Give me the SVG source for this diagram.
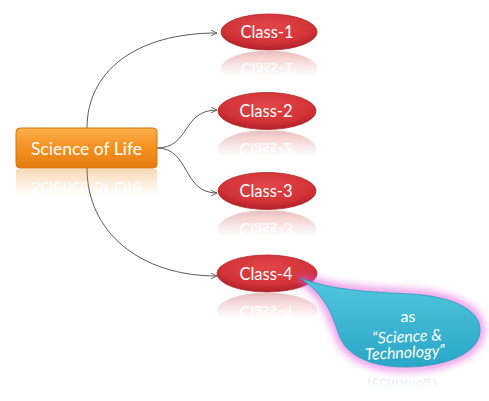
<svg xmlns="http://www.w3.org/2000/svg" xmlns:xlink="http://www.w3.org/1999/xlink" width="489" height="401" viewBox="0 0 489 401">
  <style>
    .lbl { font-family: Lato, "Liberation Sans", sans-serif; fill: #ffffff; text-anchor: middle; }
    .root-lbl { font-size: 17.5px; }
    .cls-lbl { font-size: 16.5px; }
    .note-lbl { font-size: 16px; }
    .conn { fill: none; stroke: #5a5a5a; stroke-width: 1; marker-end: url(#arrow); }
    .cls-shape { fill: url(#redFill); stroke: #b3262a; stroke-width: 0.8; }
  </style>
  <defs>
    <marker id="arrow" viewBox="0 0 10 10" refX="9.5" refY="5" markerWidth="7" markerHeight="7" markerUnits="userSpaceOnUse" orient="auto">
      <path d="M1,1 L9.5,5 L1,9" fill="none" stroke="#5a5a5a" stroke-width="1.3"/>
    </marker>
    <linearGradient id="orangeFill" x1="0" y1="0" x2="0" y2="1">
      <stop offset="0" stop-color="#fcb04e"/>
      <stop offset="0.45" stop-color="#f59323"/>
      <stop offset="1" stop-color="#e47c0e"/>
    </linearGradient>
    <radialGradient id="redFill" cx="0.5" cy="0.35" r="0.65">
      <stop offset="0" stop-color="#e0474a"/>
      <stop offset="0.7" stop-color="#d23336"/>
      <stop offset="1" stop-color="#b0202a"/>
    </radialGradient>
    <linearGradient id="cyanFill" x1="0" y1="0" x2="0" y2="1">
      <stop offset="0" stop-color="#52c6df"/>
      <stop offset="1" stop-color="#2aa6c6"/>
    </linearGradient>
    <linearGradient id="fadeGrad" x1="0" y1="0" x2="0" y2="1">
      <stop offset="0" stop-color="#ffffff" stop-opacity="0.3"/>
      <stop offset="0.7" stop-color="#ffffff" stop-opacity="0"/>
    </linearGradient>
    <mask id="fade" maskContentUnits="objectBoundingBox">
      <rect x="0" y="0" width="1" height="1" fill="url(#fadeGrad)"/>
    </mask>
    <filter id="glow" x="-20%" y="-30%" width="140%" height="160%">
      <feGaussianBlur stdDeviation="4"/>
    </filter>
    <filter id="soft" x="-10%" y="-20%" width="120%" height="140%">
      <feGaussianBlur stdDeviation="0.6"/>
    </filter>
  </defs>

  <rect width="489" height="401" fill="#ffffff"/>

  <!-- connectors -->
  <g id="connectors">
    <path class="conn" d="M87,128 C87,72 135,33 217,33"/>
    <path class="conn" d="M157,148 C190,148 182,110 217,110"/>
    <path class="conn" d="M157,148 C190,148 182,193 217,193"/>
    <path class="conn" d="M87,168 C87,232 140,276 217,276"/>
  </g>

  <!-- root node -->
  <g id="node-root">
    <g id="root-body">
      <rect x="16" y="128" width="141" height="40" rx="4" fill="url(#orangeFill)" stroke="#d9750f" stroke-width="1"/>
      <text class="lbl root-lbl" x="86.5" y="155">Science of Life</text>
    </g>
    <g mask="url(#fade)" filter="url(#soft)">
      <use xlink:href="#root-body" transform="translate(0,337) scale(1,-1)"/>
    </g>
  </g>

  <!-- class nodes -->
  <g id="node-class1">
    <g id="c1">
      <ellipse class="cls-shape" cx="269" cy="32" rx="48" ry="18"/>
      <text class="lbl cls-lbl" x="267" y="38">Class-1</text>
    </g>
    <g mask="url(#fade)" filter="url(#soft)">
      <use xlink:href="#c1" transform="translate(0,101) scale(1,-1)"/>
    </g>
  </g>

  <g id="node-class2">
    <g id="c2">
      <ellipse class="cls-shape" cx="267" cy="111" rx="49" ry="18.5"/>
      <text class="lbl cls-lbl" x="266" y="117">Class-2</text>
    </g>
    <g mask="url(#fade)" filter="url(#soft)">
      <use xlink:href="#c2" transform="translate(0,260) scale(1,-1)"/>
    </g>
  </g>

  <g id="node-class3">
    <g id="c3">
      <ellipse class="cls-shape" cx="267" cy="191" rx="49" ry="18.5"/>
      <text class="lbl cls-lbl" x="266" y="197">Class-3</text>
    </g>
    <g mask="url(#fade)" filter="url(#soft)">
      <use xlink:href="#c3" transform="translate(0,420) scale(1,-1)"/>
    </g>
  </g>

  <g id="node-class4">
    <g id="c4">
      <ellipse class="cls-shape" cx="267" cy="273.5" rx="50" ry="18.5"/>
      <text class="lbl cls-lbl" x="266" y="279.5">Class-4</text>
    </g>
    <g mask="url(#fade)" filter="url(#soft)">
      <use xlink:href="#c4" transform="translate(0,585) scale(1,-1)"/>
    </g>
  </g>

  <!-- callout attached to Class-4 -->
  <g id="node-callout">
    <path d="M300,278 C330,290 370,292 410,294 C452,296 482,310 480,332 C478,355 442,367 405,367 C370,367 346,355 339,335 C332,315 326,295 300,278 Z"
          fill="none" stroke="#e052d6" stroke-width="8" opacity="0.7" filter="url(#glow)"/>
    <g id="callout-body">
      <path d="M300,278 C330,290 370,292 410,294 C452,296 482,310 480,332 C478,355 442,367 405,367 C370,367 346,355 339,335 C332,315 326,295 300,278 Z"
            fill="url(#cyanFill)" stroke="#2a9dbb" stroke-width="0.8"/>
      <text class="lbl note-lbl" x="408" y="322">as</text>
      <text class="lbl note-lbl" x="407" y="342" font-style="italic" transform="rotate(-3 407 338)">“Science &amp;</text>
      <text class="lbl note-lbl" x="405" y="358" font-style="italic" transform="rotate(-3 405 354)">Technology”</text>
    </g>
    <g mask="url(#fade)" filter="url(#soft)">
      <g transform="translate(0,738) scale(1,-1)">
        <text class="lbl note-lbl" x="405" y="358" font-style="italic" style="fill:#7fa9bb" transform="rotate(-3 405 354)">Technology”</text>
      </g>
    </g>
  </g>
</svg>
